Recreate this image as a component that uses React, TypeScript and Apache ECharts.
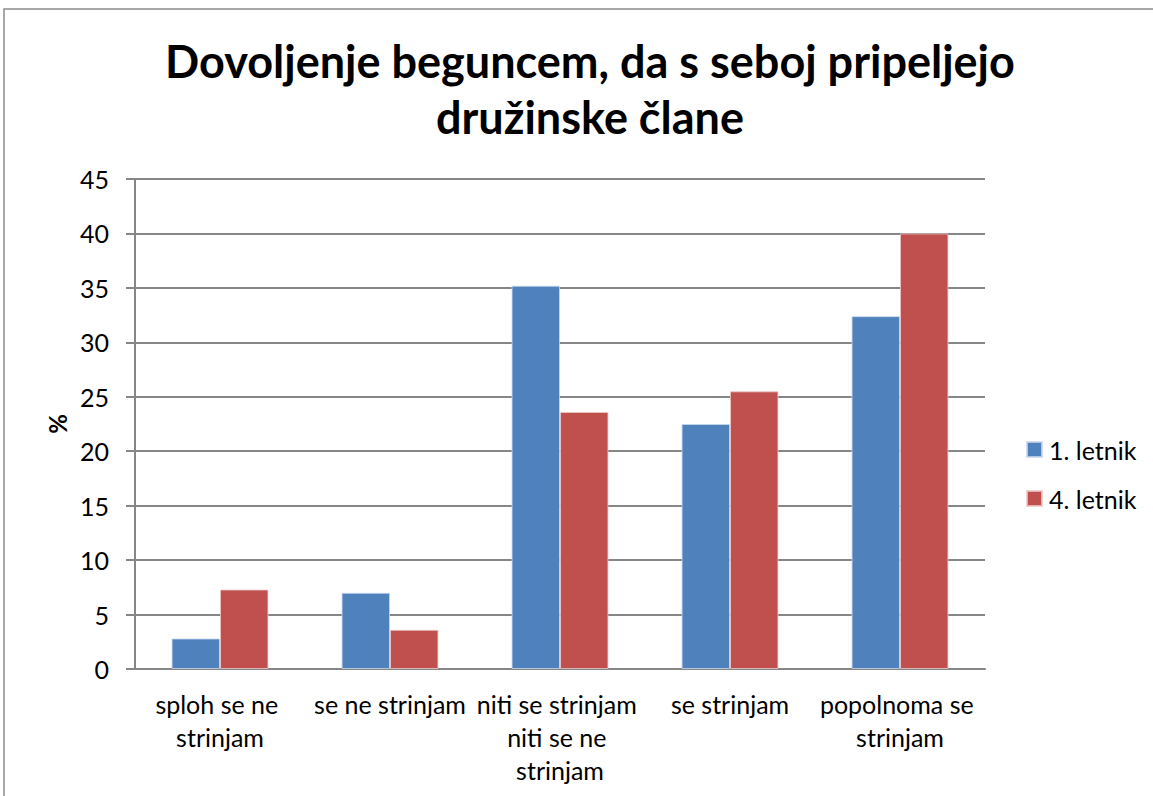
import React, { useEffect, useRef } from "react";
import * as echarts from "echarts";

const titleText = "Dovoljenje beguncem, da s seboj pripeljejo\ndružinske člane";
const categories = [
  "sploh se ne strinjam",
  "se ne strinjam",
  "niti se strinjam niti se ne strinjam",
  "se strinjam",
  "popolnoma se strinjam",
];
const seriesNames = ["1. letnik", "4. letnik"];
const letnik1 = [2.8, 7.0, 35.2, 22.5, 32.4];
const letnik4 = [7.3, 3.6, 23.6, 25.5, 40.0];
const yAxisName = "%";
const yMin = 0;
const yMax = 45;
const yInterval = 5;

const FONT = "Lato, 'Open Sans', sans-serif";

export default function App() {
  const ref = useRef<HTMLDivElement>(null);
  useEffect(() => {
    if (!ref.current) return;
    const chart = echarts.init(ref.current, undefined, { renderer: "svg" });
    chart.setOption({
      animation: false,
      backgroundColor: "#ffffff",
      textStyle: { fontFamily: FONT },
      title: {
        text: titleText,
        left: 585,
        top: 28,
        textAlign: "center",
        textStyle: {
          fontFamily: FONT,
          fontWeight: "bold",
          fontSize: 45,
          lineHeight: 56,
          color: "#000000",
        },
      },
      graphic: [
        {
          type: "rect",
          shape: { x: 4, y: 9, width: 1170, height: 800 },
          style: { fill: "none", stroke: "#8c8c8c", lineWidth: 1.5 },
          silent: true,
        },
      ],
      legend: {
        orient: "vertical",
        left: 1026,
        top: 437,
        padding: 0,
        itemWidth: 15,
        itemHeight: 15,
        itemGap: 24,
        icon: "rect",
        textStyle: { fontFamily: FONT, fontSize: 25, lineHeight: 25, color: "#000000", padding: [0, 0, 0, 2] },
        data: seriesNames,
      },
      grid: { left: 135, right: 168, top: 179, bottom: 127, containLabel: false },
      xAxis: {
        type: "category",
        data: categories,
        axisLine: { show: true, lineStyle: { color: "#868686", width: 2 } },
        axisTick: { show: false },
        axisLabel: {
          fontFamily: FONT,
          fontSize: 25,
          color: "#000000",
          margin: 18,
          lineHeight: 33,
          width: 172,
          overflow: "break",
          interval: 0,
        },
      },
      yAxis: {
        type: "value",
        min: yMin,
        max: yMax,
        interval: yInterval,
        name: yAxisName,
        nameLocation: "middle",
        nameRotate: 90,
        nameGap: 63,
        nameTextStyle: { fontFamily: FONT, fontSize: 24, fontWeight: "bold", color: "#000000" },
        axisLine: { show: true, lineStyle: { color: "#868686", width: 2 } },
        axisTick: { show: true, length: 9, lineStyle: { color: "#868686", width: 2 } },
        axisLabel: { fontFamily: FONT, fontSize: 25, color: "#000000", margin: 26 },
        splitLine: { show: true, lineStyle: { color: "#868686", width: 2 } },
      },
      series: [
        {
          name: seriesNames[0],
          type: "bar",
          data: letnik1,
          barGap: "0%",
          barCategoryGap: "43%",
          itemStyle: { color: "#4F81BD", borderColor: "rgba(200,215,235,0.8)", borderWidth: 1 },
        },
        {
          name: seriesNames[1],
          type: "bar",
          data: letnik4,
          barGap: "0%",
          barCategoryGap: "43%",
          itemStyle: { color: "#C0504D", borderColor: "rgba(235,200,200,0.8)", borderWidth: 1 },
        },
      ],
    });
    return () => chart.dispose();
  }, []);
  return (
    <div
      ref={ref}
      style={{ position: "fixed", left: 0, top: 0, width: 1153, height: 796, background: "#fff" }}
    />
  );
}
